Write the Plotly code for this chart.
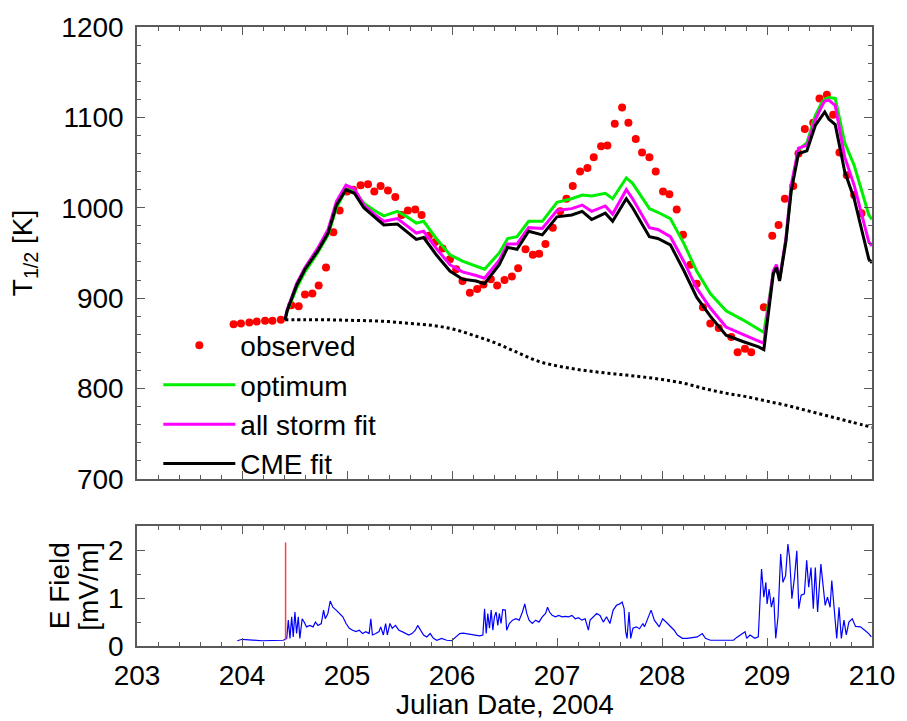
import plotly.graph_objects as go

# ---------------- data ----------------
obs_day = [203.92, 203.99, 204.07, 204.14, 204.22, 204.29, 204.37, 204.47, 204.54, 204.60,
           204.67, 204.73, 204.80, 204.87, 204.93, 205.00, 205.06, 205.13, 205.20, 205.26,
           205.32, 205.39, 205.46, 205.52, 205.58, 205.65, 205.71, 205.78, 205.84, 205.91,
           205.98, 206.04, 206.10, 206.17, 206.24, 206.30, 206.37, 206.43, 206.50, 206.57,
           206.63, 206.70, 206.77, 206.83, 206.89, 206.96, 207.03, 207.09, 207.15, 207.22,
           207.29, 207.35, 207.42, 207.48, 207.55, 207.62, 207.68, 207.75, 207.81, 207.88,
           207.94, 208.01, 208.07, 208.14, 208.20, 208.27, 208.33, 208.39, 208.46, 208.54,
           208.66, 208.72, 208.79, 208.85, 208.97, 209.05, 209.11, 209.17, 209.25, 209.30,
           209.36, 209.44, 209.50, 209.57, 209.63, 209.69, 209.76, 209.83, 209.90]
obs_T = [871, 872, 873, 874, 875, 875, 876, 892, 891, 904,
         905, 914, 934, 973, 997, 1018, 1020, 1025, 1026, 1018,
         1024, 1019, 1012, 992, 997, 998, 992, 969, 962, 955,
         943, 932, 919, 906, 910, 915, 921, 914, 920, 924,
         933, 954, 948, 949, 960, 978, 996, 1010, 1024, 1040,
         1044, 1056, 1068, 1069, 1093, 1111, 1094, 1076, 1061, 1056,
         1040, 1018, 1015, 998, 970, 937, 916, 890, 872, 867,
         857, 840, 844, 840, 890, 969, 981, 1010, 1024, 1060,
         1087, 1094, 1121, 1125, 1103, 1061, 1036, 1014, 994]

fit_day = [204.41, 204.43, 204.52, 204.60, 204.72, 204.82, 204.90, 204.99, 205.07, 205.16,
           205.26, 205.35, 205.48, 205.57, 205.66, 205.73, 205.85, 205.98, 206.10, 206.23,
           206.31, 206.45, 206.53, 206.62, 206.73, 206.86, 207.00, 207.14, 207.24, 207.33,
           207.46, 207.53, 207.66, 207.72, 207.88, 207.96, 208.08, 208.21, 208.33, 208.46,
           208.61, 208.77, 208.92, 208.97, 209.06, 209.09, 209.12, 209.18, 209.23, 209.30,
           209.38, 209.46, 209.52, 209.55, 209.59, 209.65, 209.74, 209.83, 209.97, 210.00]
optimum_T = [876, 885, 911, 929, 950, 970, 1000, 1020, 1019, 1005,
             997, 991, 996, 990, 983, 985, 966, 948, 941, 935,
             932, 950, 966, 968, 985, 985, 1006, 1010, 1014, 1013,
             1016, 1010, 1033, 1027, 999, 995, 988, 960, 930, 905,
             886, 876, 866, 862, 928, 936, 921, 964, 1020, 1064,
             1072, 1102, 1116, 1120, 1122, 1121, 1072, 1047, 992, 987]
allstorm_T = [876, 887, 916, 934, 955, 976, 1007, 1025, 1021, 1003,
              993, 985, 988, 980, 972, 974, 955, 937, 929, 925,
              922, 942, 960, 960, 978, 977, 997, 999, 1003, 996,
              1002, 993, 1020, 1010, 978, 976, 968, 940, 911, 889,
              868, 860, 852, 850, 930, 937, 921, 966, 1025, 1066,
              1069, 1097, 1112, 1118, 1119, 1113, 1056, 1025, 962, 958]
cme_T = [876, 886, 914, 932, 952, 972, 1003, 1020, 1016, 1000,
         990, 981, 982, 974, 965, 967, 948, 930, 921, 919,
         916, 937, 956, 954, 974, 970, 990, 992, 996, 987,
         994, 985, 1010, 1000, 968, 966, 959, 930, 901, 880,
         859, 852, 846, 843, 927, 934, 919, 963, 1018, 1060,
         1063, 1091, 1102, 1106, 1098, 1092, 1040, 1010, 943, 939]

base_day = [204.41, 204.6, 204.8, 205.0, 205.2, 205.4, 205.6, 205.8, 206.0, 206.2,
            206.4, 206.6, 206.8, 207.0, 207.2, 207.4, 207.6, 207.8, 208.0, 208.2,
            208.4, 208.6, 208.8, 209.0, 209.2, 209.4, 209.6, 209.8, 210.0]
base_T = [876, 876, 876, 875.5, 875, 874, 872, 870, 866, 859,
          851, 841, 831, 825, 821, 818, 815.5, 813, 810, 806,
          800, 795, 791, 786, 781, 775, 769, 763, 757]

ef_day = [203.955, 204.002, 204.190, 204.394, 204.426, 204.441, 204.457, 204.473, 204.488, 204.504,
          204.520, 204.536, 204.551, 204.573, 204.592, 204.614, 204.646, 204.677, 204.699, 204.724,
          204.755, 204.777, 204.793, 204.818, 204.840, 204.865, 204.897, 204.928, 204.960, 204.991,
          205.022, 205.054, 205.085, 205.117, 205.148, 205.179, 205.211, 205.227, 205.242, 205.274,
          205.305, 205.321, 205.346, 205.368, 205.384, 205.409, 205.431, 205.462, 205.494, 205.525,
          205.556, 205.588, 205.619, 205.651, 205.673, 205.698, 205.729, 205.760, 205.792, 205.823,
          205.855, 205.902, 205.949, 205.996, 206.043, 206.074, 206.106, 206.137, 206.200, 206.263,
          206.294, 206.310, 206.326, 206.341, 206.357, 206.373, 206.389, 206.404, 206.420, 206.436,
          206.451, 206.467, 206.483, 206.508, 206.521, 206.546, 206.577, 206.608, 206.640, 206.671,
          206.693, 206.712, 206.734, 206.765, 206.797, 206.828, 206.860, 206.891, 206.910, 206.929,
          206.954, 206.985, 207.017, 207.048, 207.079, 207.111, 207.142, 207.174, 207.205, 207.237,
          207.268, 207.299, 207.315, 207.347, 207.378, 207.410, 207.441, 207.472, 207.504, 207.535,
          207.567, 207.598, 207.620, 207.639, 207.654, 207.667, 207.686, 207.702, 207.723, 207.755,
          207.786, 207.818, 207.833, 207.896, 207.927, 207.974, 208.006, 208.053, 208.116, 208.147,
          208.194, 208.241, 208.336, 208.383, 208.414, 208.461, 208.681, 208.712, 208.744, 208.791,
          208.807, 208.838, 208.885, 208.917, 208.948, 208.970, 208.989, 209.001, 209.020, 209.042,
          209.064, 209.083, 209.105, 209.130, 209.152, 209.177, 209.199, 209.215, 209.237, 209.262,
          209.284, 209.303, 209.325, 209.356, 209.378, 209.397, 209.419, 209.441, 209.460, 209.482,
          209.513, 209.529, 209.554, 209.576, 209.601, 209.617, 209.639, 209.664, 209.686, 209.708,
          209.733, 209.755, 209.780, 209.812, 209.843, 209.890, 209.931, 209.969, 209.994]
ef_val = [0.11, 0.14, 0.11, 0.12, 0.16, 0.54, 0.16, 0.61, 0.19, 0.71,
          0.26, 0.61, 0.16, 0.57, 0.50, 0.40, 0.43, 0.40, 0.50, 0.43,
          0.47, 0.75, 0.57, 0.68, 0.94, 0.81, 0.75, 0.68, 0.61, 0.47,
          0.37, 0.33, 0.30, 0.33, 0.26, 0.30, 0.26, 0.57, 0.23, 0.26,
          0.30, 0.40, 0.23, 0.47, 0.23, 0.47, 0.37, 0.43, 0.33, 0.30,
          0.26, 0.23, 0.26, 0.33, 0.43, 0.33, 0.23, 0.19, 0.26, 0.16,
          0.12, 0.16, 0.12, 0.11, 0.19, 0.26, 0.27, 0.26, 0.23, 0.21,
          0.23, 0.78, 0.26, 0.68, 0.37, 0.75, 0.33, 0.61, 0.71, 0.43,
          0.68, 0.47, 0.76, 0.75, 0.33, 0.47, 0.54, 0.57, 0.54, 0.71,
          0.88, 0.68, 0.54, 0.47, 0.54, 0.50, 0.61, 0.68, 0.81, 0.71,
          0.64, 0.61, 0.64, 0.61, 0.62, 0.61, 0.64, 0.57, 0.59, 0.54,
          0.57, 0.33, 0.54, 0.61, 0.68, 0.64, 0.50, 0.61, 0.47, 0.75,
          0.85, 0.88, 0.92, 0.78, 0.30, 0.16, 0.71, 0.16, 0.37, 0.40,
          0.36, 0.47, 0.40, 0.75, 0.54, 0.40, 0.57, 0.47, 0.33, 0.23,
          0.16, 0.16, 0.19, 0.26, 0.16, 0.12, 0.12, 0.18, 0.23, 0.30,
          0.16, 0.23, 0.16, 0.19, 1.61, 1.02, 1.33, 0.88, 1.19, 0.81,
          1.02, 0.16, 0.61, 1.92, 1.33, 1.47, 2.13, 1.85, 0.99, 1.44,
          1.99, 0.78, 1.06, 1.09, 1.79, 1.23, 1.64, 0.78, 1.64, 0.71,
          1.71, 1.40, 0.85, 1.02, 0.81, 1.37, 0.81, 0.16, 0.81, 0.16,
          0.54, 0.23, 0.50, 0.57, 0.41, 0.40, 0.33, 0.26, 0.19]

onset_day = [204.415, 204.415]
onset_val = [0.12, 2.16]

top_ticks = [700, 800, 900, 1000, 1100, 1200]
bot_ticks = [0, 1, 2]
x_ticks = [203, 204, 205, 206, 207, 208, 209, 210]

FONT = "Liberation Sans, Arial, sans-serif"
AXC = "#5a5a5a"

fig = go.Figure()
fig.add_trace(go.Scatter(x=obs_day, y=obs_T, mode="markers", name="observed",
                         marker=dict(color="#ff0000", size=8), xaxis="x", yaxis="y"))
fig.add_trace(go.Scatter(x=fit_day, y=optimum_T, mode="lines", name="optimum",
                         line=dict(color="#00ee00", width=3), xaxis="x", yaxis="y"))
fig.add_trace(go.Scatter(x=fit_day, y=allstorm_T, mode="lines", name="all storm fit",
                         line=dict(color="#ff00ff", width=3), xaxis="x", yaxis="y"))
fig.add_trace(go.Scatter(x=fit_day, y=cme_T, mode="lines", name="CME fit",
                         line=dict(color="#000000", width=3), xaxis="x", yaxis="y"))
fig.add_trace(go.Scatter(x=base_day, y=base_T, mode="lines", showlegend=False,
                         line=dict(color="#000000", width=3, dash="dot", shape="spline"),
                         xaxis="x", yaxis="y"))
fig.add_trace(go.Scatter(x=ef_day, y=ef_val, mode="lines", showlegend=False,
                         line=dict(color="#0000ff", width=1.2), xaxis="x2", yaxis="y2"))
fig.add_trace(go.Scatter(x=onset_day, y=onset_val, mode="lines", showlegend=False,
                         line=dict(color="#ff4040", width=1.5), xaxis="x2", yaxis="y2"))

common_x = dict(range=[203, 210], tickvals=x_ticks, ticks="inside", ticklen=8, tickwidth=1.3,
                tickcolor=AXC, showline=True, linecolor=AXC, linewidth=1.5, mirror="allticks",
                showgrid=False, zeroline=False,
                minor=dict(dtick=0.2, tick0=203, ticks="inside", ticklen=4, tickcolor=AXC, tickwidth=1.2))

fig.update_layout(
    width=907, height=721,
    margin=dict(l=137, r=27, t=20, b=75),
    paper_bgcolor="white", plot_bgcolor="white",
    font=dict(family=FONT, size=28, color="black"),
    xaxis=dict(common_x, domain=[0, 1], anchor="y", showticklabels=False),
    yaxis=dict(domain=[0.2700, 1.0], range=[700, 1200], tickvals=top_ticks,
               ticks="inside", ticklen=8, tickwidth=1.3, tickcolor=AXC,
               showline=True, linecolor=AXC, linewidth=1.5, mirror="allticks",
               showgrid=False, zeroline=False, ticklabelstandoff=6,
               minor=dict(dtick=20, ticks="inside", ticklen=4, tickcolor=AXC, tickwidth=1.2)),
    xaxis2=dict(common_x, domain=[0, 1], anchor="y2", matches="x", ticklabelstandoff=4),
    yaxis2=dict(domain=[0.0, 0.1933], range=[0, 2.5], tickvals=bot_ticks,
                ticks="inside", ticklen=8, tickwidth=1.3, tickcolor=AXC,
                showline=True, linecolor=AXC, linewidth=1.5, mirror="allticks",
                showgrid=False, zeroline=False, ticklabelstandoff=6,
                minor=dict(dtick=0.5, ticks="inside", ticklen=4, tickcolor=AXC, tickwidth=1.2)),
    legend=dict(x=0.029, y=0.5256, xanchor="left", yanchor="top", bgcolor="rgba(0,0,0,0)",
                font=dict(size=28), itemwidth=72, tracegroupgap=0),
    showlegend=True,
    annotations=[
        dict(text="T<sub>1/2</sub> [K]", textangle=-90, xref="paper", yref="y domain",
             x=-0.152, y=0.5, xanchor="center", yanchor="middle", showarrow=False,
             font=dict(size=28)),
        dict(text="E Field", textangle=-90, xref="paper", yref="y2 domain",
             x=-0.106, y=0.5, xanchor="center", yanchor="middle", showarrow=False,
             font=dict(size=28)),
        dict(text="[mV/m]", textangle=-90, xref="paper", yref="y2 domain",
             x=-0.066, y=0.5, xanchor="center", yanchor="middle", showarrow=False,
             font=dict(size=28)),
        dict(text="Julian Date, 2004", xref="paper", yref="paper",
             x=0.5, y=-0.094, xanchor="center", yanchor="middle", showarrow=False,
             font=dict(size=28)),
    ],
)

fig.write_html("out.html")
